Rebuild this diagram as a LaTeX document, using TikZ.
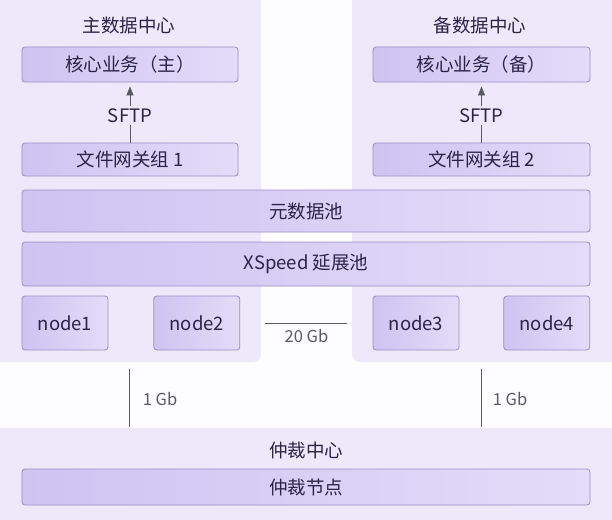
\documentclass[tikz,border=0pt]{standalone}
\usepackage{fontspec}
\setmainfont{Noto Sans CJK SC}
\usepackage{tikz}
\usetikzlibrary{arrows,arrows.meta,positioning,calc,backgrounds}

\definecolor{paper}{HTML}{FDFCFF}
\definecolor{panelbg}{HTML}{EEE9FA}
\definecolor{boxline}{HTML}{9A8EC2}
\definecolor{boxleft}{HTML}{CFC3F2}
\definecolor{boxright}{HTML}{E3DCF8}
\definecolor{ink}{HTML}{2A2445}
\definecolor{wire}{HTML}{5A5A66}

\begin{document}
\begin{tikzpicture}[x=1pt,y=-1pt,>={Triangle[length=9pt,width=7pt]},semithick,
                    font=\fontsize{18.5}{22}\selectfont]
  \tikzstyle{panel}=[fill=panelbg,rounded corners=8pt,inner sep=0pt]
  \tikzstyle{box}=[draw=boxline,line width=0.8pt,rounded corners=3pt,
                   left color=boxleft,right color=boxright,text=ink,inner sep=0pt]
  \tikzstyle{title}=[text=ink]
  \tikzstyle{speed}=[text=wire,font=\fontsize{16.5}{19}\selectfont]

  \useasboundingbox (0,0) rectangle (612,519);
  \fill[paper] (0,0) rectangle (612,519);

  % data centres
  \node[panel,minimum width=271pt,minimum height=372pt] (mainDC) at (125.5,176) {};
  \node[panel,minimum width=270pt,minimum height=372pt] (backupDC) at (487,176) {};
  \node[panel,minimum width=632pt,minimum height=101pt] (arbDC) at (306,478.5) {};

  \node[title] (mainTitle)   at (129,25) {主数据中心};
  \node[title] (backupTitle) at (480,25) {备数据中心};

  \node[box,minimum width=216pt,minimum height=35pt] (core1) at (130,64.5)  {核心业务（主）};
  \node[box,minimum width=216pt,minimum height=33pt] (gw1)   at (130,159.5) {文件网关组 1};
  \node[box,minimum width=217pt,minimum height=35pt] (core2) at (481.5,64.5)  {核心业务（备）};
  \node[box,minimum width=217pt,minimum height=33pt] (gw2)   at (481.5,159.5) {文件网关组 2};

  \node[box,minimum width=568pt,minimum height=42pt] (meta)   at (306,211) {元数据池};
  \node[box,minimum width=568pt,minimum height=44pt] (xspeed) at (306,264) {XSpeed 延展池};

  \node[box,minimum width=86pt,minimum height=54pt] (node1) at (65,323) {node1};
  \node[box,minimum width=86pt,minimum height=54pt] (node2) [right=45pt of node1] {node2};
  \node[box,minimum width=86pt,minimum height=54pt] (node3) at (416,323) {node3};
  \node[box,minimum width=86pt,minimum height=54pt] (node4) [right=44pt of node3] {node4};

  \node[title] (arbTitle) at (306,450) {仲裁中心};
  \node[box,minimum width=568pt,minimum height=36pt] (arbiter) at (306,487) {仲裁节点};

  % links
  \path[draw=wire,fill=wire,->,shorten >=4pt] (gw1) -- (core1)
      node[pos=0.45,fill=panelbg,text=ink,inner sep=2pt] {SFTP};
  \path[draw=wire,fill=wire,->,shorten >=4pt] (gw2) -- (core2)
      node[pos=0.45,fill=panelbg,text=ink,inner sep=2pt] {SFTP};

  \draw[wire,thin,shorten <=4pt,shorten >=5pt] (mainDC.east |- node2) -- (backupDC.west |- node3)
      node[midway,below=3pt,speed] {20 Gb};

  \draw[wire,thin,shorten <=7pt,shorten >=1pt] (129,362) -- (129,428);
  \node[speed] (gb1) at (160,399) {1 Gb};
  \draw[wire,thin,shorten <=7pt,shorten >=1pt] (481,362) -- (481,428);
  \node[speed] (gb2) at (510,399) {1 Gb};

\end{tikzpicture}
\end{document}
